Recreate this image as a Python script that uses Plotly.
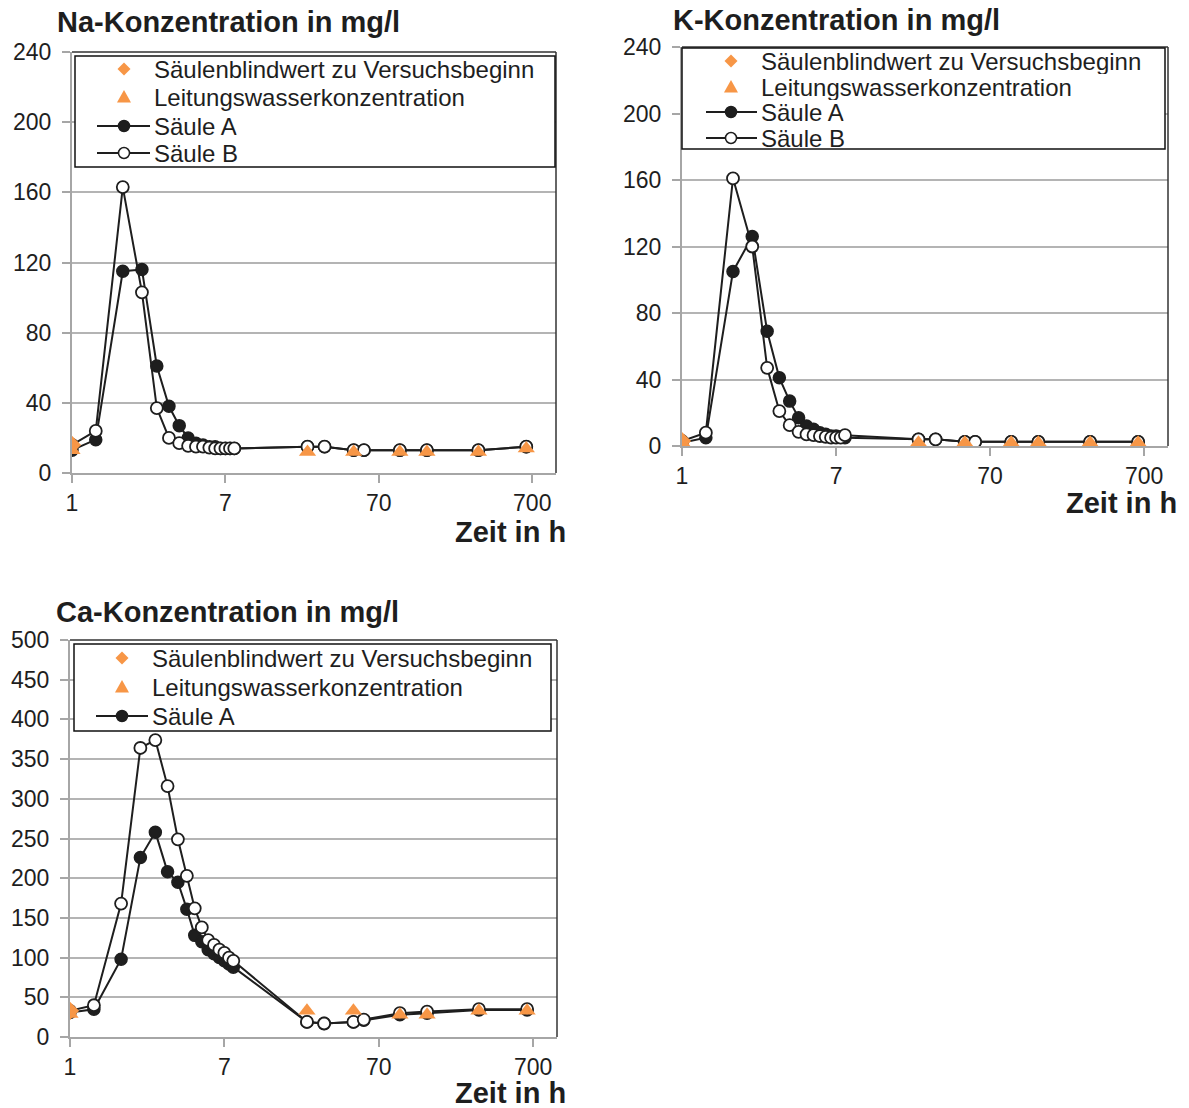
import math
import plotly.graph_objects as go

W, H = 1189, 1108

# Sampling times in hours (log axis starts at 0.7 h)
t = [0.7, 1, 1.5, 2, 2.5, 3, 3.5, 4, 4.5, 5, 5.5, 6, 6.5, 7, 7.5, 8,
     24, 31, 48, 56, 96, 144, 312, 640]
t_blank = [0.7]
t_tap = [0.7, 24, 48, 96, 144, 312, 640]

# Na in mg/l
na_a = [13, 19, 115, 116, 61, 38, 27, 20, 17, 16, 15, 15, 14, 14, 14, 14,
        15, 15, 13, 13, 13, 13, 13, 15]
na_b = [16, 24, 163, 103, 37, 20, 17, 15.5, 15, 15, 14.5, 14, 14, 14, 14, 14,
        15, 15, 13, 13, 13, 13, 13, 15]
na_blank = [16]
na_tap = [13, 12, 12, 12, 12, 12, 14]

# K in mg/l
k_a = [2, 5, 105, 126, 69, 41, 27, 17, 12, 10, 8, 7, 6, 6, 5.5, 5,
       4, 4, 2.5, 2.5, 2.5, 2.5, 2.5, 2.5]
k_b = [3, 8, 161, 120, 47, 21, 12.5, 8.5, 7, 6.5, 6, 5.5, 5, 5, 5, 6.5,
       4, 4, 2.5, 2.5, 2.5, 2.5, 2.5, 2.5]
k_blank = [3]
k_tap = [2, 2, 2, 2, 2, 2, 2]

# Ca in mg/l
ca_a = [31, 35, 98, 226, 258, 208, 195, 161, 128, 120, 110, 105, 100, 96, 92, 88,
        19, 17, 19, 21, 28, 30, 34, 34]
ca_b = [33, 40, 168, 364, 374, 316, 249, 203, 162, 138, 122, 116, 110, 106, 100, 96,
        19, 17, 19, 22, 30, 32, 35, 35]
ca_blank = [33]
ca_tap = [29, 33, 33, 28, 28, 33, 33]

x_tickvals = [0.7, 7, 70, 700]
x_ticktext = ["1", "7", "70", "700"]

legend_labels = ["Säulenblindwert zu Versuchsbeginn", "Leitungswasserkonzentration",
                 "Säule A", "Säule B"]

ORANGE = "#f79646"
INK = "#1e1e1e"
GRID = "#b4b4b4"
FONT = "Liberation Sans, Arial, sans-serif"


def fx(px):
    return px / W


def fy(py):
    return 1 - py / H


fig = go.Figure()

panels = [
    # name, a, b, blank, tap, axis suffix, plot box (l, t, r, b), y range, dtick
    ("Na", na_a, na_b, na_blank, na_tap, "", (72, 52, 556, 473), 240, 40),
    ("K", k_a, k_b, k_blank, k_tap, "2", (682, 47, 1168, 446), 240, 40),
    ("Ca", ca_a, ca_b, ca_blank, ca_tap, "3", (70, 640, 557, 1037), 500, 50),
]

layout_axes = {}
shapes = []
annotations = []

for name, a, b, blank, tap, sfx, box, ymax, dtick in panels:
    xa = "x" + sfx
    ya = "y" + sfx
    line = dict(color=INK, width=2)
    fig.add_trace(go.Scatter(x=t, y=a, mode="lines+markers", xaxis=xa, yaxis=ya,
                             line=line, showlegend=False,
                             marker=dict(symbol="circle", size=12, color=INK,
                                         line=dict(color=INK, width=1.5))))
    fig.add_trace(go.Scatter(x=t, y=b, mode="lines+markers", xaxis=xa, yaxis=ya,
                             line=line, showlegend=False,
                             marker=dict(symbol="circle", size=12, color="white",
                                         line=dict(color=INK, width=1.8))))
    fig.add_trace(go.Scatter(x=t_blank, y=blank, mode="markers", xaxis=xa, yaxis=ya,
                             showlegend=False,
                             marker=dict(symbol="diamond", size=14, color=ORANGE)))
    fig.add_trace(go.Scatter(x=t_tap, y=tap, mode="markers", xaxis=xa, yaxis=ya,
                             showlegend=False,
                             marker=dict(symbol="triangle-up", size=15, color=ORANGE)))

    l, tp, r, bt = box
    common = dict(showline=True, linecolor="#a6a6a6", linewidth=2,
                  ticks="outside", ticklen=8, tickwidth=2, tickcolor="#a6a6a6",
                  tickfont=dict(family=FONT, size=23, color=INK), zeroline=False,
                  automargin=False)
    layout_axes["xaxis" + sfx] = dict(
        type="log", range=[math.log10(0.7), 3.0], domain=[fx(l), fx(r)],
        anchor=ya, tickvals=x_tickvals, ticktext=x_ticktext, showgrid=False,
        ticklabelstandoff=0, **common)
    layout_axes["yaxis" + sfx] = dict(
        range=[0, ymax], dtick=dtick, domain=[fy(bt), fy(tp)], anchor=xa,
        showgrid=True, gridcolor=GRID, gridwidth=2, ticklabelstandoff=6, **common)

    # right and top frame of the plot area
    shapes.append(dict(type="line", xref="paper", yref="paper", x0=fx(r), x1=fx(r),
                       y0=fy(bt), y1=fy(tp), line=dict(color="#333333", width=1.5),
                       layer="above"))
    shapes.append(dict(type="line", xref="paper", yref="paper", x0=fx(l), x1=fx(r),
                       y0=fy(tp), y1=fy(tp), line=dict(color="#333333", width=1.5),
                       layer="above"))

# Titles and axis captions
titles = [("Na-Konzentration in mg/l", 55, 22), ("K-Konzentration in mg/l", 671, 20),
          ("Ca-Konzentration in mg/l", 54, 612)]
for text, x, y in titles:
    annotations.append(dict(text="<b>%s</b>" % text, xref="paper", yref="paper",
                            x=fx(x), y=fy(y), xanchor="left", yanchor="middle",
                            showarrow=False, font=dict(family=FONT, size=29, color=INK)))
for x, y in [(568, 532), (1179, 503), (568, 1093)]:
    annotations.append(dict(text="<b>Zeit in h</b>", xref="paper", yref="paper",
                            x=fx(x), y=fy(y), xanchor="right", yanchor="middle",
                            showarrow=False, font=dict(family=FONT, size=29, color=INK)))

# Legend boxes: (box l, t, r, b), row centres, symbol x, line x0/x1, text x, entries
legends = [
    ((75, 56, 555, 167), [69, 97, 126, 153], 124, 97, 150, 153, 4),
    ((682, 48, 1165, 149), [61, 87, 112, 138], 731, 706, 757, 760, 4),
    ((74, 644, 551, 731), [658, 687, 716], 122, 96, 148, 151, 3),
]
for (bl, bt_, br, bb), rows, sx, lx0, lx1, tx, n in legends:
    row_h = min(rows[1] - rows[0], 28)
    shapes.append(dict(type="rect", xref="paper", yref="paper", x0=fx(bl), x1=fx(br),
                       y0=fy(bb), y1=fy(bt_), fillcolor="white",
                       line=dict(color="#111111", width=1.5), layer="above"))
    for i in range(n):
        ry = rows[i]
        if i == 0:
            d = 6.5
            path = "M%f,%f L%f,%f L%f,%f L%f,%f Z" % (
                fx(sx), fy(ry - d), fx(sx + d), fy(ry), fx(sx), fy(ry + d), fx(sx - d), fy(ry))
            shapes.append(dict(type="path", xref="paper", yref="paper", path=path,
                               fillcolor=ORANGE, line=dict(width=0), layer="above"))
        elif i == 1:
            d = 7
            path = "M%f,%f L%f,%f L%f,%f Z" % (
                fx(sx), fy(ry - d), fx(sx + d), fy(ry + d * 0.8), fx(sx - d), fy(ry + d * 0.8))
            shapes.append(dict(type="path", xref="paper", yref="paper", path=path,
                               fillcolor=ORANGE, line=dict(width=0), layer="above"))
        else:
            shapes.append(dict(type="line", xref="paper", yref="paper", x0=fx(lx0), x1=fx(lx1),
                               y0=fy(ry), y1=fy(ry), line=dict(color=INK, width=2),
                               layer="above"))
            rad = 5.5
            shapes.append(dict(type="circle", xref="paper", yref="paper",
                               x0=fx(sx - rad), x1=fx(sx + rad), y0=fy(ry + rad), y1=fy(ry - rad),
                               fillcolor=INK if i == 2 else "white",
                               line=dict(color=INK, width=1.5), layer="above"))
        annotations.append(dict(text=legend_labels[i], xref="paper", yref="paper",
                                x=fx(tx), y=fy(ry), xanchor="left", yanchor="middle",
                                height=row_h, valign="middle", borderpad=0,
                                showarrow=False, font=dict(family=FONT, size=24, color=INK)))

fig.update_layout(
    width=W, height=H, autosize=False,
    margin=dict(l=0, r=0, t=0, b=0, pad=0, autoexpand=False),
    paper_bgcolor="white", plot_bgcolor="white",
    showlegend=False,
    shapes=shapes, annotations=annotations,
    **layout_axes,
)

fig.write_html("out.html")
